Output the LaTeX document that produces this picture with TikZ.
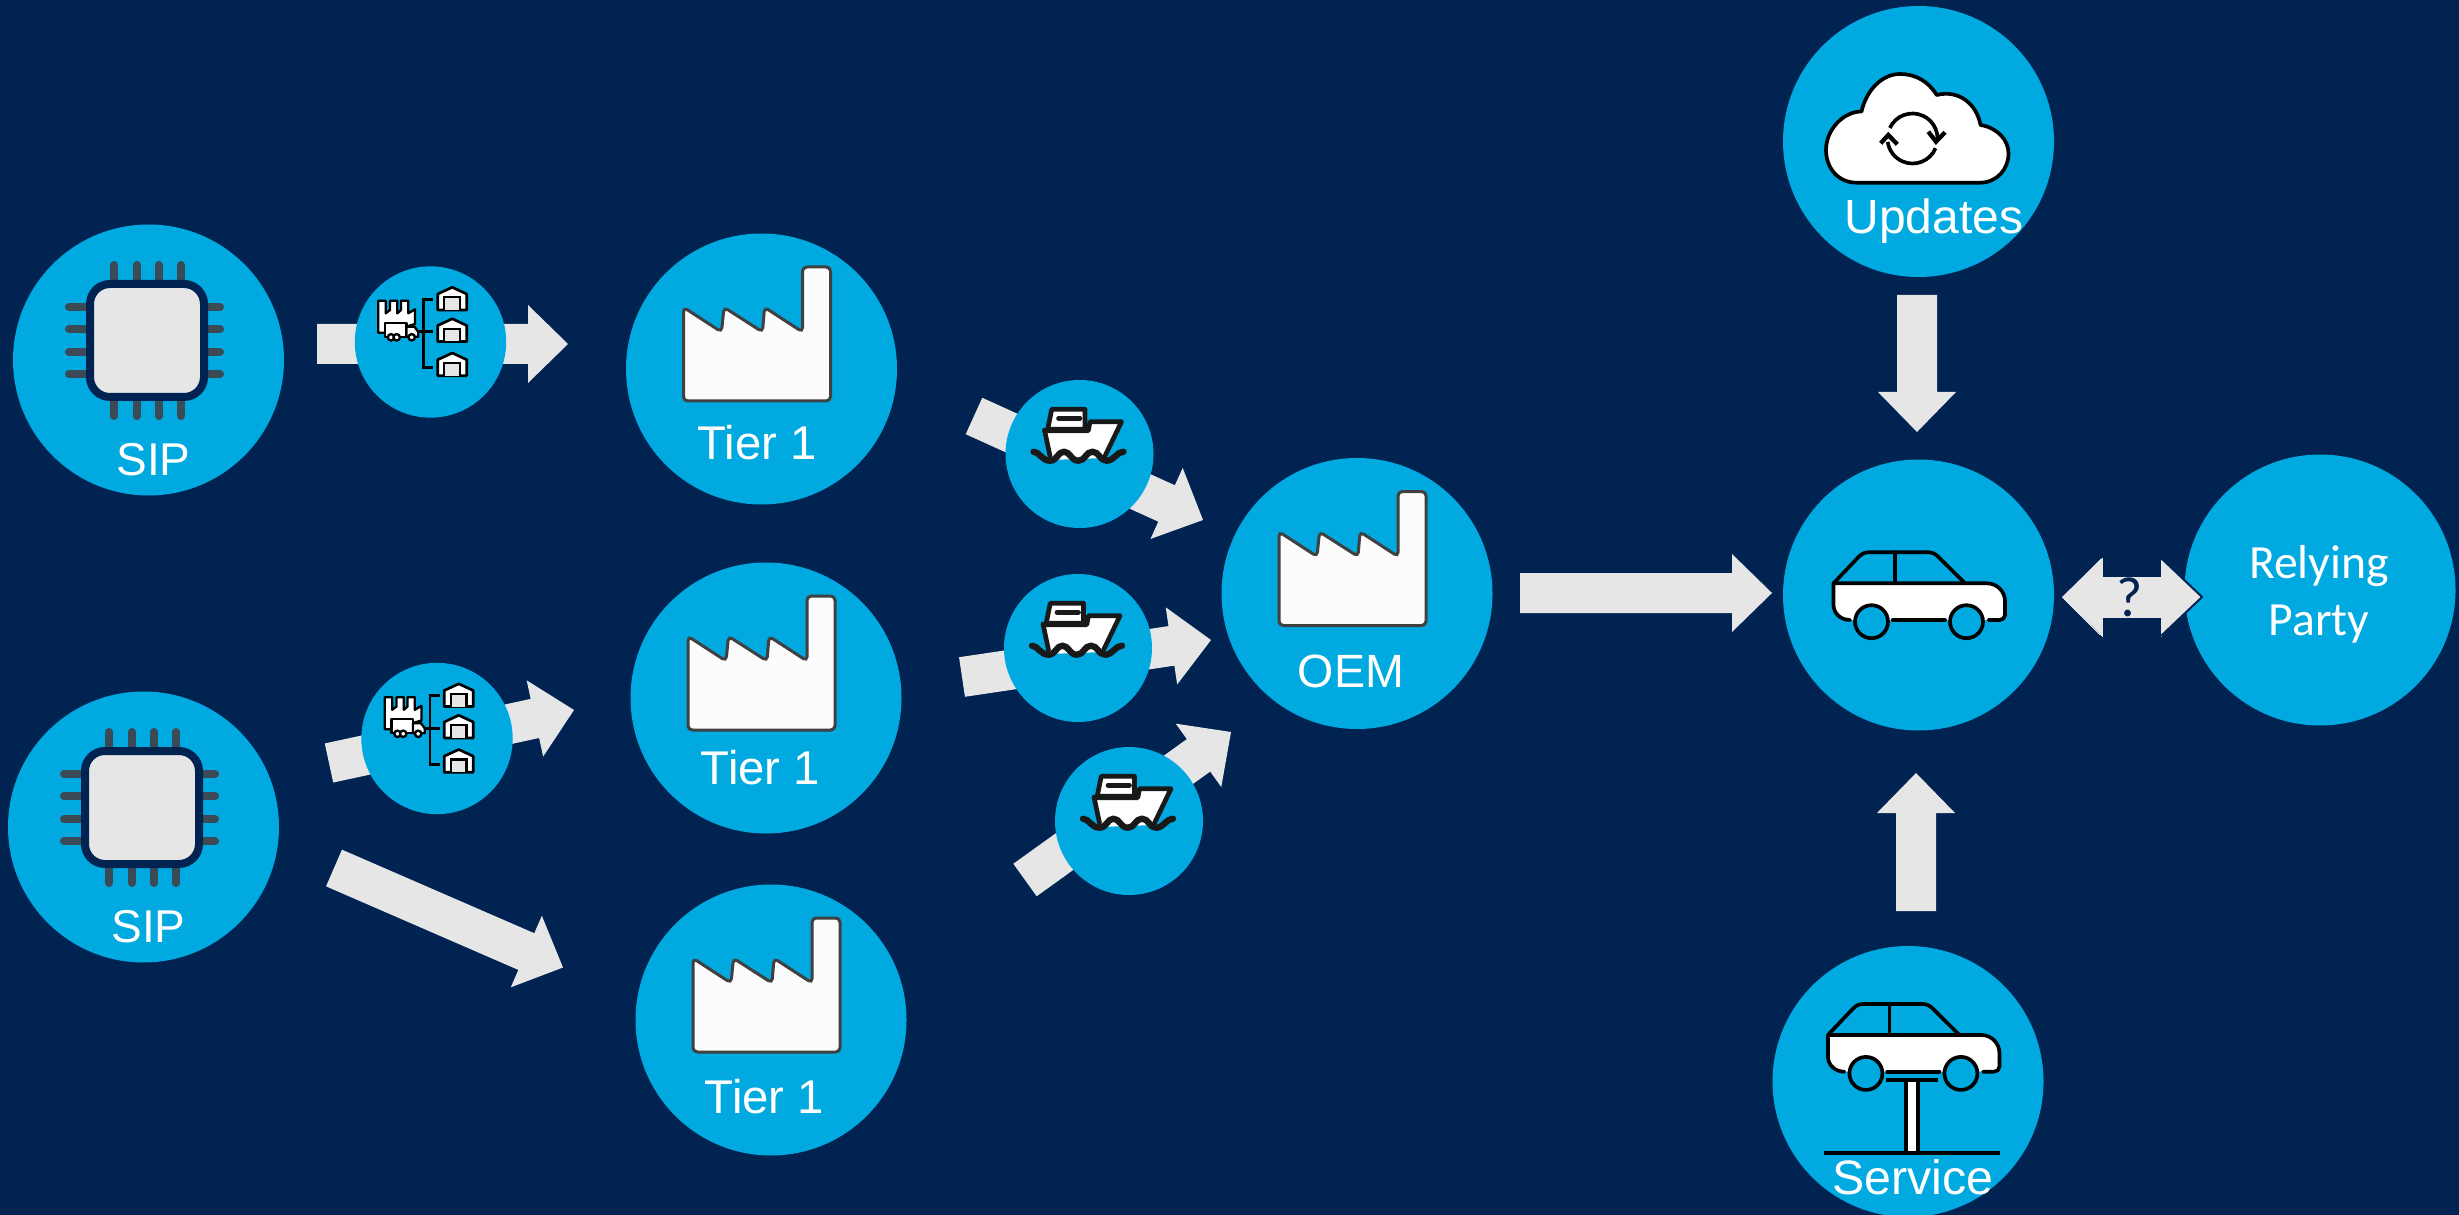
\documentclass[tikz,border=0pt]{standalone}
\usepackage{fontspec}
\setmainfont{Liberation Sans}
\newfontfamily\carlitofont{Carlito}
\usetikzlibrary{calc}
\definecolor{bgnavy}{HTML}{002352}
\definecolor{cyanc}{HTML}{00A9E0}
\definecolor{lightg}{HTML}{E6E6E6}
\definecolor{pinc}{HTML}{3C4A56}
\tikzset{
  bigc/.style={circle,fill=cyanc,minimum size=81.3pt,inner sep=0pt,outer sep=0pt},
  smallc/.style={circle,fill=cyanc,minimum size=44.4pt,inner sep=0pt,outer sep=0pt},
  lbl/.style={text=white,font=\fontsize{14}{17}\selectfont,anchor=base,inner sep=0pt},
  iconline/.style={draw=black,line width=1.1pt,line join=round,line cap=round},
  factoryicon/.pic={
    \draw[fill=white!99!black,draw=black!75,line width=0.9pt,rounded corners=1.3pt]
      (-78,-61.7)--(-40,-37)--(-37.5,-61.7)--(1,-37)--(3,-61.7)--(41,-37)--(41,-102)--(69,-102)--(69,32)--(-78,32)--cycle;
  },
  chipicon/.pic={
    \foreach \a in {-34.5,-11.9,10.3,32.5}{
      \draw[pinc,line width=2.4pt,line cap=round] (\a,-95)--(\a,-78);
      \draw[pinc,line width=2.4pt,line cap=round] (\a,39)--(\a,56);
    }
    \foreach \b in {-53,-31,-8,14}{
      \draw[pinc,line width=2.4pt,line cap=round] (-79.5,\b)--(-60,\b);
      \draw[pinc,line width=2.4pt,line cap=round] (57,\b)--(71.5,\b);
    }
    \draw[draw=bgnavy,fill=lightg,line width=2.4pt,rounded corners=6pt] (-58.5,-76) rectangle (55.5,37);
  },
  shipicon/.pic={
    \fill[white] (-35,-23.3)--(8.8,-23.3)--(10.5,-32.3)--(42,-32.3)--(25.5,4)--(-29.5,6)--cycle;
    \begin{scope}[draw=black!90,line width=1.4pt,line join=round,line cap=round]
    \draw[fill=white] (-27.8,-44.7)--(5.5,-44.7)--(5.5,-24.7)--(-31.8,-24.7)--cycle;
    \draw (-21,-35.7)--(0.5,-35.7);
    \draw (-35,-24)--(-29.5,2);
    \draw (-35,-23.3)--(8.8,-23.3)--(10.5,-32.3)--(42,-32.3)--(25.5,2);
    \draw[line width=1.9pt] (-46,-2.3) .. controls (-40,-2.3) and (-38,6.7) .. (-29.5,6.7)
      .. controls (-22,6.7) and (-22,-2.3) .. (-15.5,-2.3)
      .. controls (-9,-2.3) and (-9,6.7) .. (-1,6.7)
      .. controls (6,6.7) and (6,-2.3) .. (13,-2.3)
      .. controls (20,-2.3) and (20,6.7) .. (27,6.7)
      .. controls (35,6.7) and (37,-2.3) .. (44,-2.3);
    \end{scope}
  },
  warehouse/.pic={
    \draw[fill=white,draw=black,line width=0.8pt,line join=round] (7.2,11.5)--(7.2,-4.5)--(21.8,-11.2)--(36.2,-4.5)--(36.2,11.5)--cycle;
    \draw[fill=lightg,draw=black,line width=0.7pt] (13.8,11.5)--(13.8,-1.2)--(29.5,-1.2)--(29.5,11.5);
  },
  districon/.pic={
    \pic at (0,-43.5) {warehouse};
    \pic at (0,-12) {warehouse};
    \pic at (0,22.2) {warehouse};
    \draw[black,line width=0.8pt] (2.8,-42.7)--(-7,-42.7)--(-7,25.7)--(2.8,25.7);
    \draw[black,line width=0.8pt] (-12,-10.3)--(2.8,-10.3);
    \draw[fill=white,draw=black,line width=0.7pt,line join=round]
      (-52.2,-41.3)--(-44.8,-41.3)--(-44.8,-28.7)--(-40.5,-32)--(-40.5,-41.3)--(-33.2,-41.3)--(-33.2,-28.7)--(-29.5,-32)--(-29.5,-41.3)--(-22.2,-41.3)--(-22.2,-28.7)--(-15.5,-32.7)--(-15.5,-18)--(-45,-9.3)--(-52.2,-9.3)--cycle;
    \draw[fill=white,draw=black,line width=0.7pt,line join=round] (-45.5,-19.3) rectangle (-24,-5.3);
    \draw[fill=white,draw=black,line width=0.7pt,line join=round] (-24,-15.3)--(-16,-15.3)--(-12.2,-10)--(-12.2,-5.3)--(-24,-5.3)--cycle;
    \foreach \w in {-39.5,-33.8,-18.8}{\draw[fill=white,draw=black,line width=0.7pt] (\w,-4.7) circle (3.2);}
  },
  caricon/.pic={
    \fill[white] (-85,-11.7)--(68,-11.7) .. controls (80,-11.7) and (86.5,-2) .. (86.5,6)--(86.5,20) .. controls (86.5,23) and (84,25) .. (81,25)--(-68,25) .. controls (-78,25) and (-85,18) .. (-85,10)--cycle;
    \begin{scope}[iconline]
    \draw (-68.5,25) .. controls (-78,25) and (-85,18) .. (-85,10)--(-85,-11.7)--(68,-11.7) .. controls (80,-11.7) and (86.5,-2) .. (86.5,6)--(86.5,20) .. controls (86.5,23) and (84,25) .. (81,25)--(70,25);
    \draw (-25.8,25)--(26.5,25);
    \draw (-85,-11.7)--(-60,-38) .. controls (-57,-41) and (-54,-42.7) .. (-50,-42.7)--(10,-42.7) .. controls (14,-42.7) and (17,-41) .. (20,-38)--(46.5,-11.7);
    \draw (-23.5,-42.7)--(-23.5,-11.7);
    \draw[fill=cyanc] (-47,26.7) circle (16.5);
    \draw[fill=cyanc] (48,26.7) circle (16.5);
    \end{scope}
  },
  cloudicon/.pic={
    \draw[fill=white,iconline]
      (-61.8,41.2) .. controls (-80,41.2) and (-92.5,27) .. (-92.5,8.5)
      .. controls (-92.5,-12) and (-75,-30) .. (-57,-30)
      .. controls (-52,-52) and (-36,-67.5) .. (-18.5,-67.5)
      .. controls (-3,-67.5) and (10,-60) .. (18.2,-46.5)
      .. controls (40,-52) and (58,-38) .. (62,-16.5)
      .. controls (78,-14) and (90,-2) .. (90,11.8)
      .. controls (90,28) and (78,41.2) .. (61.5,41.2)--cycle;
    \draw[black,line width=1.1pt] (-6,-3) ++(-155:25) arc (-155:4:25);
    \draw[black,line width=1.1pt] (-6,-3) ++(23:25) arc (23:172:25);
    \draw[black,line width=1.3pt] (9.8,-9.8)--(17.5,0.2)--(26.5,-9.2);
    \draw[black,line width=1.3pt] (-37.8,1.8)--(-30.2,-6.5)--(-21.2,2.8);
  }
}
\newcommand{\blockarrow}[2]{%
  \path ($(#2)!12pt!(#1)$) coordinate (neck);
  \fill[lightg] ($(#1)!6pt!90:(#2)$)--($(neck)!6pt!90:(#2)$)--($(neck)!11.7pt!90:(#2)$)--(#2)
    --($(neck)!11.7pt!-90:(#2)$)--($(neck)!6pt!-90:(#2)$)--($(#1)!6pt!-90:(#2)$)--cycle;
}
\begin{document}
\begin{tikzpicture}[x=0.3pt,y=-0.3pt]
\useasboundingbox (0,0) rectangle (2459,1215);
\fill[bgnavy] (0,0) rectangle (2459,1215);

% big circles
\node[bigc] (sip1) at (148.5,360) {};
\node[bigc] (sip2) at (143.5,827) {};
\node[bigc] (tier1a) at (761.5,369) {};
\node[bigc] (tier1b) at (766,698) {};
\node[bigc] (tier1c) at (771,1020) {};
\node[bigc] (oem) at (1357,593.5) {};
\node[bigc] (car) at (1918.5,595) {};
\node[bigc] (updates) at (1918.5,141.5) {};
\node[bigc] (service) at (1908,1081.5) {};
\node[bigc] (relying) at (2320,590) {};

% arrow ends
\coordinate (a1s) at (317,344);   \coordinate (a1e) at (568,344);
\coordinate (a2s) at (329,763);   \coordinate (a2e) at (574,710);
\coordinate (a3s) at (334,868);   \coordinate (a3e) at (563,967.5);
\coordinate (b1s) at (974,416);   \coordinate (b1e) at (1203,520);
\coordinate (b2s) at (962,677);   \coordinate (b2e) at (1211,640);
\coordinate (b3s) at (1025,880);  \coordinate (b3e) at (1231,732);
\coordinate (c1s) at (1520,593);  \coordinate (c1e) at (1772,593);
\coordinate (c2s) at (1917,295);  \coordinate (c2e) at (1917,432);
\coordinate (c3s) at (1916,911);  \coordinate (c3e) at (1916,773);

\blockarrow{a1s}{a1e}
\blockarrow{a2s}{a2e}
\blockarrow{a3s}{a3e}
\blockarrow{b1s}{b1e}
\blockarrow{b2s}{b2e}
\blockarrow{b3s}{b3e}
\blockarrow{c1s}{c1e}
\blockarrow{c2s}{c2e}
\blockarrow{c3s}{c3e}

% double arrow
\coordinate (dl) at (2062,597);
\coordinate (dr) at (2202,597);
\draw[lightg,fill=lightg,line width=0pt] (dl)--(2102,558)--(2102,577)--(2161,577)--(2161,558)--(dr)--(2161,636)--(2161,617)--(2102,617)--(2102,636)--cycle;
\draw[bgnavy,line width=0.6pt] (2161,558)--(dr)--(2161,636);
\node[text=bgnavy,font=\carlitofont\fontsize{17}{20}\selectfont,inner sep=0pt] (qm) at (2130,597) {?};

% small circles
\node[smallc,minimum size=45.4pt] (d1) at (430.5,342) {};
\node[smallc,minimum size=45.4pt] (d2) at (437,738.5) {};
\node[smallc] (s1) at (1079.5,454) {};
\node[smallc] (s2) at (1078,648) {};
\node[smallc] (s3) at (1129,821) {};

% icons
\pic at (sip1) {chipicon};
\pic at (sip2) {chipicon};
\pic at (tier1a) {factoryicon};
\pic at (tier1b) {factoryicon};
\pic at (tier1c) {factoryicon};
\pic at (oem) {factoryicon};
\pic at (d1) {districon};
\pic at (d2) {districon};
\pic at (s1) {shipicon};
\pic at (s2) {shipicon};
\pic at (s3) {shipicon};
\pic at (car) {caricon};
\pic at (updates) {cloudicon};
\begin{scope}[shift={(service)}]
  \pic at (4.9,-34.8) {caricon};
  \fill[white] (-2.3,0) rectangle (10.3,70);
  \draw[iconline,line cap=butt] (-2.3,0)--(-2.3,70);
  \draw[iconline,line cap=butt] (10.3,0)--(10.3,70);
  \draw[iconline,line cap=butt] (-22,-1.5)--(30.3,-1.5);
  \draw[iconline,line cap=butt] (-84,71.8)--(92,71.8);
\end{scope}

% labels
\node[lbl,font=\fontsize{13.8}{17}\selectfont] (lsip1) at (153.5,475) {SIP};
\node[lbl,font=\fontsize{13.8}{17}\selectfont] (lsip2) at (148.5,942) {SIP};
\node[lbl,font=\fontsize{14.2}{17}\selectfont] (lt1) at (757,459.5) {Tier 1};
\node[lbl,font=\fontsize{14.2}{17}\selectfont] (lt2) at (760.5,784) {Tier 1};
\node[lbl,font=\fontsize{14.2}{17}\selectfont] (lt3) at (764.5,1113) {Tier 1};
\node[lbl] (loem) at (1351,687.5) {OEM};
\node[lbl,font=\fontsize{14.4}{17}\selectfont] (lup) at (1934,233.5) {Updates};
\node[lbl,font=\fontsize{14.5}{17}\selectfont] (lsv) at (1913,1194) {Service};
\node[lbl,font=\carlitofont\fontsize{14.3}{17}\selectfont] (lr1) at (2319,578) {Relying};
\node[lbl,font=\carlitofont\fontsize{14.3}{17}\selectfont] (lr2) at (2319,635) {Party};
\end{tikzpicture}
\end{document}
